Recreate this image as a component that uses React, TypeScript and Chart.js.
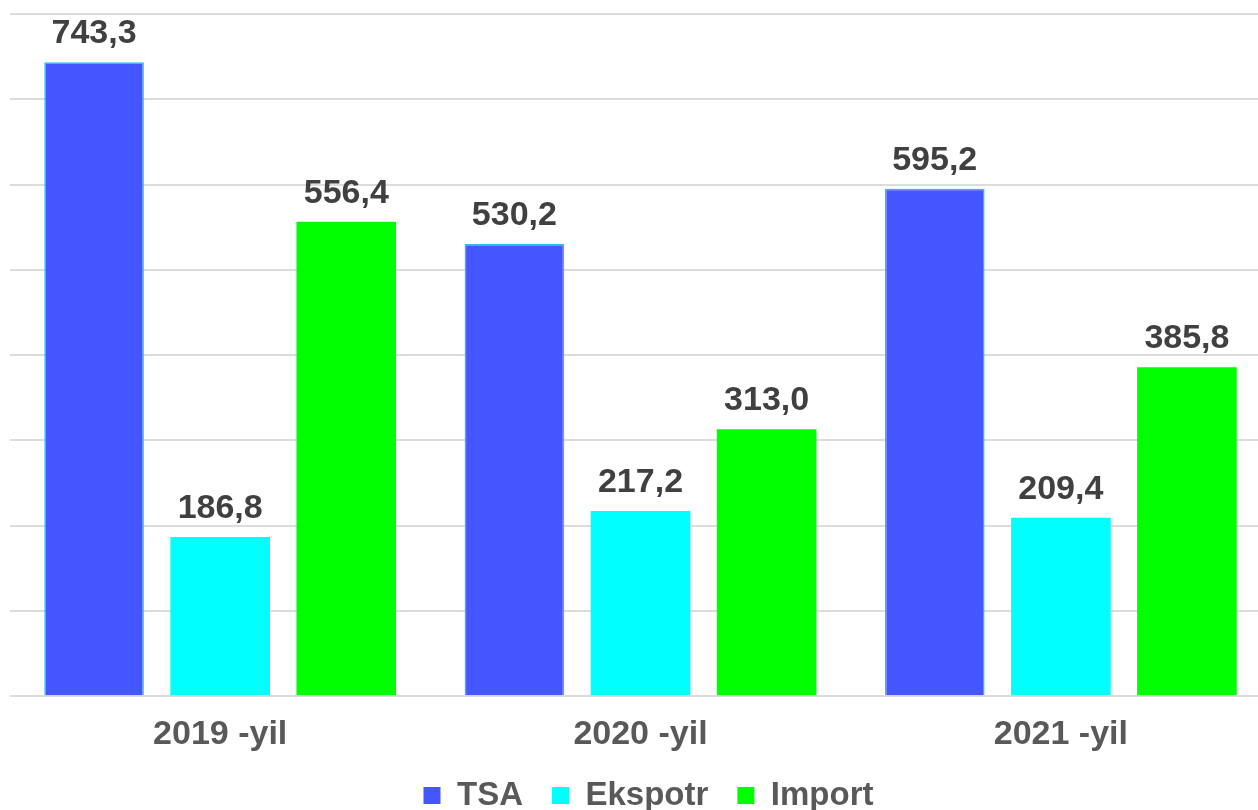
import { useEffect, useRef } from 'react';
import { Chart, registerables } from 'chart.js';

Chart.register(...registerables);

const categories = ['2019 -yil', '2020 -yil', '2021 -yil'];
const seriesNames = ['TSA', 'Ekspotr', 'Import'];
const tsaValues = [743.3, 530.2, 595.2];
const eksportValues = [186.8, 217.2, 209.4];
const importValues = [556.4, 313.0, 385.8];
const yMin = 0;
const yMax = 800;
const yStep = 100;

const FONT = '"Liberation Sans", Arial, sans-serif';

const valueLabels = {
  id: 'valueLabels',
  afterDatasetsDraw(chart: any) {
    const ctx = chart.ctx;
    ctx.save();
    ctx.font = `bold 34px ${FONT}`;
    ctx.fillStyle = '#404040';
    ctx.textAlign = 'center';
    ctx.textBaseline = 'alphabetic';
    chart.data.datasets.forEach((ds: any, i: number) => {
      const meta = chart.getDatasetMeta(i);
      meta.data.forEach((bar: any, j: number) => {
        const v = ds.data[j] as number;
        ctx.fillText(v.toFixed(1).replace('.', ','), bar.x, bar.y - 19);
      });
    });
    ctx.restore();
  },
};

// pull the legend a little closer to the axis labels
const legendShift = {
  id: 'legendShift',
  afterLayout(chart: any) {
    const l = chart.legend;
    if (l) {
      l.top -= 15;
      l.bottom -= 15;
    }
  },
};

export default function App() {
  const ref = useRef<HTMLCanvasElement>(null);
  useEffect(() => {
    if (!ref.current) return;
    const chart = new Chart(ref.current, {
      type: 'bar',
      data: {
        labels: categories,
        datasets: [
          {
            label: seriesNames[0],
            data: tsaValues,
            backgroundColor: '#4456ff',
            borderColor: '#22bdf5',
            borderWidth: 1.5,
          },
          {
            label: seriesNames[1],
            data: eksportValues,
            backgroundColor: '#00ffff',
            borderWidth: 0,
          },
          {
            label: seriesNames[2],
            data: importValues,
            backgroundColor: '#00ff00',
            borderWidth: 0,
          },
        ],
      },
      options: {
        responsive: false,
        animation: false,
        devicePixelRatio: 1,
        datasets: {
          bar: { categoryPercentage: 0.9, barPercentage: 0.79 },
        },
        layout: { padding: { left: 10, right: 1, top: 14, bottom: 0 } },
        scales: {
          x: {
            grid: { display: false },
            border: { display: false },
            ticks: {
              color: '#595959',
              font: { family: FONT, size: 34, weight: 'bold' },
              padding: 10,
            },
          },
          y: {
            position: 'right',
            min: yMin,
            max: yMax,
            ticks: { display: false, stepSize: yStep },
            grid: { color: '#dcdcdc', lineWidth: 2, drawTicks: false },
            border: { display: false },
            afterFit: (scale: any) => {
              scale.width = 16;
            },
          },
        },
        plugins: {
          tooltip: { enabled: false },
          legend: {
            position: 'bottom',
            labels: {
              color: '#595959',
              font: { family: FONT, size: 33, weight: 'bold' },
              boxWidth: 17,
              boxHeight: 17,
              padding: 29,
              generateLabels: (chart: any) =>
                chart.data.datasets.map((ds: any, i: number) => ({
                  text: ds.label,
                  fillStyle: ds.backgroundColor,
                  strokeStyle: ds.backgroundColor,
                  lineWidth: 0,
                  hidden: false,
                  datasetIndex: i,
                  fontColor: '#595959',
                })),
            },
          },
        },
      },
      plugins: [valueLabels, legendShift],
    });
    return () => chart.destroy();
  }, []);

  return (
    <div
      style={{
        position: 'absolute',
        left: 0,
        top: 0,
        width: 1258,
        height: 810,
        overflow: 'hidden',
        background: '#ffffff',
      }}
    >
      <canvas ref={ref} width={1288} height={837} style={{ display: 'block' }} />
    </div>
  );
}
